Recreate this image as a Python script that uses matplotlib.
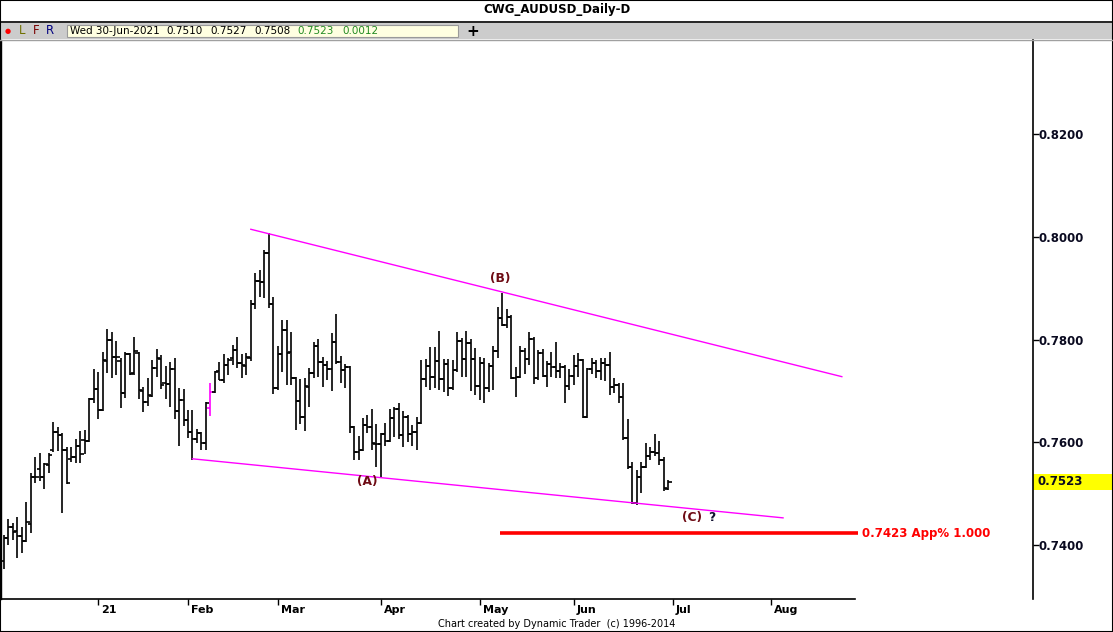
import numpy as np
import pandas as pd
import matplotlib
matplotlib.use("Agg")
import matplotlib.pyplot as plt
import matplotlib.transforms as mtransforms
from matplotlib.collections import LineCollection
from matplotlib.patches import Rectangle
from matplotlib.lines import Line2D

# daily AUDUSD bars, 3-Dec-2020 .. 30-Jun-2021
opens = [0.7369, 0.7414, 0.7435, 0.7427, 0.7418, 0.7408, 0.7441, 0.7533, 0.7548, 0.7533,
         0.7556, 0.7585, 0.7620, 0.7615, 0.7585, 0.7567, 0.7571, 0.7593, 0.7605, 0.7603,
         0.7684, 0.7704, 0.7663, 0.7758, 0.7799, 0.7766, 0.7758, 0.7696, 0.7772, 0.7735,
         0.7774, 0.7700, 0.7679, 0.7690, 0.7745, 0.7762, 0.7716, 0.7714, 0.7743, 0.7661,
         0.7683, 0.7644, 0.7620, 0.7607, 0.7618, 0.7599, 0.7667, 0.7698, 0.7739, 0.7722,
         0.7751, 0.7764, 0.7780, 0.7755, 0.7749, 0.7764, 0.7869, 0.7914, 0.7912, 0.7969,
         0.7869, 0.7706, 0.7772, 0.7819, 0.7776, 0.7725, 0.7681, 0.7650, 0.7708, 0.7735,
         0.7788, 0.7756, 0.7751, 0.7743, 0.7795, 0.7756, 0.7741, 0.7747, 0.7630, 0.7581,
         0.7585, 0.7634, 0.7630, 0.7597, 0.7597, 0.7616, 0.7603, 0.7648, 0.7665, 0.7614,
         0.7650, 0.7616, 0.7620, 0.7638, 0.7723, 0.7749, 0.7727, 0.7758, 0.7723, 0.7753,
         0.7706, 0.7741, 0.7797, 0.7762, 0.7793, 0.7762, 0.7710, 0.7755, 0.7706, 0.7749,
         0.7778, 0.7842, 0.7829, 0.7844, 0.7725, 0.7727, 0.7778, 0.7762, 0.7801, 0.7725,
         0.7774, 0.7729, 0.7753, 0.7747, 0.7739, 0.7747, 0.7710, 0.7729, 0.7749, 0.7760,
         0.7650, 0.7743, 0.7755, 0.7739, 0.7755, 0.7751, 0.7708, 0.7712, 0.7688, 0.7609,
         0.7552, 0.7482, 0.7533, 0.7552, 0.7573, 0.7581, 0.7579, 0.7566, 0.7510]
highs = [0.7420, 0.7451, 0.7443, 0.7455, 0.7435, 0.7484, 0.7540, 0.7571, 0.7579, 0.7560,
         0.7579, 0.7640, 0.7630, 0.7618, 0.7591, 0.7591, 0.7607, 0.7622, 0.7624, 0.7686,
         0.7743, 0.7737, 0.7776, 0.7821, 0.7815, 0.7797, 0.7764, 0.7776, 0.7774, 0.7805,
         0.7776, 0.7708, 0.7725, 0.7760, 0.7782, 0.7770, 0.7749, 0.7756, 0.7764, 0.7706,
         0.7704, 0.7663, 0.7663, 0.7626, 0.7620, 0.7679, 0.7716, 0.7739, 0.7756, 0.7772,
         0.7764, 0.7790, 0.7805, 0.7772, 0.7774, 0.7877, 0.7930, 0.7936, 0.7975, 0.8008,
         0.7883, 0.7788, 0.7838, 0.7838, 0.7815, 0.7727, 0.7723, 0.7725, 0.7745, 0.7795,
         0.7801, 0.7766, 0.7758, 0.7813, 0.7850, 0.7768, 0.7753, 0.7749, 0.7632, 0.7612,
         0.7648, 0.7654, 0.7665, 0.7636, 0.7618, 0.7638, 0.7665, 0.7669, 0.7677, 0.7661,
         0.7654, 0.7634, 0.7650, 0.7760, 0.7762, 0.7786, 0.7786, 0.7817, 0.7762, 0.7762,
         0.7760, 0.7815, 0.7803, 0.7817, 0.7801, 0.7784, 0.7766, 0.7764, 0.7755, 0.7788,
         0.7864, 0.7891, 0.7860, 0.7848, 0.7747, 0.7788, 0.7784, 0.7815, 0.7805, 0.7780,
         0.7782, 0.7758, 0.7776, 0.7795, 0.7755, 0.7751, 0.7743, 0.7770, 0.7774, 0.7762,
         0.7745, 0.7764, 0.7760, 0.7764, 0.7764, 0.7776, 0.7725, 0.7716, 0.7716, 0.7646,
         0.7562, 0.7546, 0.7562, 0.7599, 0.7591, 0.7616, 0.7603, 0.7571, 0.7527]
lows = [0.7353, 0.7400, 0.7410, 0.7375, 0.7385, 0.7406, 0.7424, 0.7521, 0.7525, 0.7509,
        0.7540, 0.7581, 0.7583, 0.7463, 0.7519, 0.7562, 0.7560, 0.7560, 0.7577, 0.7601,
        0.7677, 0.7646, 0.7661, 0.7735, 0.7725, 0.7731, 0.7667, 0.7686, 0.7731, 0.7731,
        0.7684, 0.7659, 0.7671, 0.7688, 0.7727, 0.7704, 0.7684, 0.7669, 0.7646, 0.7593,
        0.7632, 0.7609, 0.7566, 0.7599, 0.7585, 0.7585, 0.7652, 0.7696, 0.7721, 0.7716,
        0.7731, 0.7751, 0.7745, 0.7725, 0.7731, 0.7758, 0.7860, 0.7883, 0.7881, 0.7862,
        0.7694, 0.7702, 0.7737, 0.7712, 0.7712, 0.7624, 0.7636, 0.7622, 0.7669, 0.7725,
        0.7727, 0.7708, 0.7721, 0.7700, 0.7753, 0.7716, 0.7706, 0.7618, 0.7566, 0.7566,
        0.7583, 0.7618, 0.7585, 0.7552, 0.7533, 0.7593, 0.7601, 0.7611, 0.7607, 0.7591,
        0.7601, 0.7593, 0.7585, 0.7636, 0.7708, 0.7702, 0.7706, 0.7702, 0.7698, 0.7690,
        0.7702, 0.7737, 0.7727, 0.7727, 0.7700, 0.7692, 0.7683, 0.7677, 0.7698, 0.7702,
        0.7764, 0.7827, 0.7823, 0.7723, 0.7688, 0.7725, 0.7733, 0.7751, 0.7714, 0.7721,
        0.7727, 0.7708, 0.7727, 0.7725, 0.7725, 0.7677, 0.7702, 0.7712, 0.7727, 0.7648,
        0.7648, 0.7733, 0.7725, 0.7722, 0.7720, 0.7692, 0.7696, 0.7677, 0.7605, 0.7548,
        0.7480, 0.7478, 0.7501, 0.7550, 0.7566, 0.7573, 0.7556, 0.7506, 0.7508]
closes = [0.7414, 0.7435, 0.7425, 0.7418, 0.7408, 0.7445, 0.7533, 0.7533, 0.7533, 0.7558,
          0.7575, 0.7620, 0.7614, 0.7585, 0.7521, 0.7571, 0.7593, 0.7577, 0.7603, 0.7684,
          0.7704, 0.7663, 0.7760, 0.7799, 0.7766, 0.7766, 0.7696, 0.7772, 0.7733, 0.7778,
          0.7702, 0.7679, 0.7692, 0.7745, 0.7764, 0.7712, 0.7714, 0.7743, 0.7661, 0.7683,
          0.7644, 0.7620, 0.7607, 0.7618, 0.7599, 0.7677, 0.7698, 0.7737, 0.7722, 0.7751,
          0.7760, 0.7780, 0.7755, 0.7751, 0.7766, 0.7869, 0.7914, 0.7912, 0.7969, 0.7869,
          0.7706, 0.7772, 0.7819, 0.7774, 0.7725, 0.7681, 0.7650, 0.7710, 0.7735, 0.7788,
          0.7756, 0.7751, 0.7743, 0.7795, 0.7756, 0.7741, 0.7747, 0.7630, 0.7581, 0.7585,
          0.7634, 0.7630, 0.7599, 0.7597, 0.7616, 0.7603, 0.7648, 0.7665, 0.7614, 0.7650,
          0.7616, 0.7620, 0.7638, 0.7723, 0.7749, 0.7727, 0.7758, 0.7723, 0.7753, 0.7706,
          0.7741, 0.7797, 0.7762, 0.7793, 0.7762, 0.7710, 0.7755, 0.7706, 0.7749, 0.7778,
          0.7842, 0.7829, 0.7844, 0.7725, 0.7727, 0.7778, 0.7762, 0.7801, 0.7725, 0.7774,
          0.7729, 0.7753, 0.7747, 0.7739, 0.7747, 0.7710, 0.7729, 0.7749, 0.7760, 0.7650,
          0.7743, 0.7755, 0.7739, 0.7755, 0.7751, 0.7708, 0.7712, 0.7688, 0.7609, 0.7552,
          0.7482, 0.7533, 0.7552, 0.7573, 0.7581, 0.7579, 0.7566, 0.7511, 0.7523]
highlight_bar = 46  # the magenta bar in early Feb

# trading days (weekdays, no 1-Jan bar), extended past the data for the axis
dates = pd.bdate_range("2020-12-03", "2021-08-31")
dates = dates[dates != pd.Timestamp("2021-01-01")]

month_keys = [(2021, 1), (2021, 2), (2021, 3), (2021, 4), (2021, 5), (2021, 6), (2021, 7), (2021, 8)]
month_labels = ["21", "Feb", "Mar", "Apr", "May", "Jun", "Jul", "Aug"]
month_pos = [int(np.argmax((dates.year == y) & (dates.month == m))) for y, m in month_keys]

price_ticks = [0.7400, 0.7600, 0.7800, 0.8000, 0.8200]

# drawn lines: (bar index, price) end points
upper_x = [55.0, 186.7]
upper_y = [0.8015, 0.7728]
lower_x = [42.0, 173.6]
lower_y = [0.7568, 0.7453]
target_price = 0.7423
target_x = [110.5, 190.3]
target_text = "0.7423 App% 1.000"

wave_labels = [("(A)", 80.9, 0.7523), ("(B)", 110.5, 0.7920), ("(C)", 153.3, 0.7453)]

W, H = 1113, 632


def fx(px):
    return px / W


def fy(py):
    return 1 - py / H


fig = plt.figure(figsize=(W / 100, H / 100), dpi=100)
fig.patch.set_facecolor("white")
plt.rcParams["font.family"] = ["DejaVu Sans"]

ax = fig.add_axes([fx(1), fy(599), fx(1033) - fx(1), fy(40) - fy(599)])
ax.set_xlim(-0.67, 229.3)
ax.set_ylim(0.72950, 0.83836)

# OHLC bars
segs, cols = [], []
tick_w = 0.75
for i in range(len(closes)):
    c = "#ff00ff" if i == highlight_bar else "black"
    segs.append([(i, lows[i]), (i, highs[i])])
    segs.append([(i - tick_w, opens[i]), (i, opens[i])])
    segs.append([(i, closes[i]), (i + tick_w, closes[i])])
    cols += [c, c, c]
ax.add_collection(LineCollection(segs, colors=cols, linewidths=1.2, capstyle="butt"))

ax.plot(upper_x, upper_y, color="#ff00ff", lw=1.0)
ax.plot(lower_x, lower_y, color="#ff00ff", lw=1.0)
ax.plot(target_x, [target_price] * 2, color="#ff0000", lw=2.6, solid_capstyle="butt")
ax.text(target_x[1] + 0.9, target_price, target_text, color="#ff0000", fontsize=8.5,
        fontweight="bold", va="center", ha="left")

for txt, xi, yv in wave_labels:
    ax.text(xi, yv, txt, color="#6e0b14", fontsize=8.8, fontweight="bold", ha="center", va="center")
ax.text(wave_labels[2][1] + 4.4, wave_labels[2][2], "?", color="#101030", fontsize=8.8,
        fontweight="bold", ha="center", va="center")

# axes frame
for s in ["top", "bottom"]:
    ax.spines[s].set_visible(False)
ax.spines["left"].set_linewidth(1.0)
ax.spines["right"].set_linewidth(1.2)
ax.plot([0, (855 - 1) / 1032], [0, 0], transform=ax.transAxes, color="black", lw=1.2,
        clip_on=False)

ax.yaxis.tick_right()
ax.set_yticks(price_ticks)
ax.set_yticklabels([f"{p:.4f}" for p in price_ticks])
ax.tick_params(axis="y", direction="out", length=4, width=1, pad=0, labelsize=8.5,
               labelcolor="#0a0a20")
for lab in ax.get_yticklabels():
    lab.set_fontweight("bold")

ax.set_xticks(month_pos)
ax.set_xticklabels([])
ax.tick_params(axis="x", direction="out", length=4, width=1)
lab_tr = mtransforms.offset_copy(mtransforms.blended_transform_factory(ax.transData, ax.transAxes),
                                 fig=fig, x=3, y=-11, units="dots")
for p, lab in zip(month_pos, month_labels):
    ax.text(p, 0, lab, transform=lab_tr, fontsize=8, fontweight="bold", ha="left", va="center")

# current price box on the scale
units_per_px = (ax.get_ylim()[1] - ax.get_ylim()[0]) / (599 - 40)
box_tr = mtransforms.blended_transform_factory(ax.transAxes, ax.transData)
ax.add_patch(Rectangle((1.0, closes[-1] - 8 * units_per_px), 80 / 1032, 16 * units_per_px,
                       transform=box_tr, facecolor="#ffff00", edgecolor="none", clip_on=False))
ax.text(1.0 + 4 / 1032, closes[-1], f"{closes[-1]:.4f}", transform=box_tr, fontsize=8.5,
        fontweight="bold", va="center", ha="left", color="#0a0a20")

# title and toolbar
fig.text(0.5, fy(10), "CWG_AUDUSD_Daily-D", ha="center", va="center", fontsize=8.5,
         fontweight="bold")
fig.add_artist(Line2D([0, 1], [fy(22), fy(22)], color="black", lw=1.2))
fig.add_artist(Rectangle((0, fy(39)), 1, fy(23) - fy(39), facecolor="#cccccc",
                         edgecolor="none", transform=fig.transFigure))
fig.add_artist(Line2D([0, 1], [fy(39.5), fy(39.5)], color="#a0a0a0", lw=1.0))
fig.add_artist(Rectangle((fx(67), fy(37)), fx(458) - fx(67), fy(25) - fy(37),
                         facecolor="#ffffe1", edgecolor="#9a9a9a", lw=0.8,
                         transform=fig.transFigure))
fig.text(fx(8), fy(31), "\u25cf", color="#ff0000", fontsize=5, ha="center", va="center")
for t, xp, c in [("L", 22, "#707000"), ("F", 36, "#7a0000"), ("R", 50, "#000080")]:
    fig.text(fx(xp), fy(31), t, color=c, fontsize=8.5, ha="center", va="center")
fig.text(fx(473), fy(31), "+", fontsize=11, fontweight="bold", ha="center", va="center")

last = len(closes) - 1
change = closes[-1] - closes[-2]
info = [(dates[last].strftime("%a %d-%b-%Y"), 70, "black"),
        (f"{opens[-1]:.4f}", 166, "black"), (f"{highs[-1]:.4f}", 210, "black"),
        (f"{lows[-1]:.4f}", 254, "black"), (f"{closes[-1]:.4f}", 297, "#228b22"),
        (f"{change:.4f}", 342, "#228b22")]
for t, xp, c in info:
    fig.text(fx(xp), fy(31), t, color=c, fontsize=7.5, ha="left", va="center")

fig.text(0.5, fy(624), "Chart created by Dynamic Trader  (c) 1996-2014", ha="center",
         va="center", fontsize=7)

fig.add_artist(Rectangle((0, 0), 1, 1, fill=False, edgecolor="black", lw=1.5,
                         transform=fig.transFigure))

fig.savefig("out.png", dpi=100, facecolor="white")
